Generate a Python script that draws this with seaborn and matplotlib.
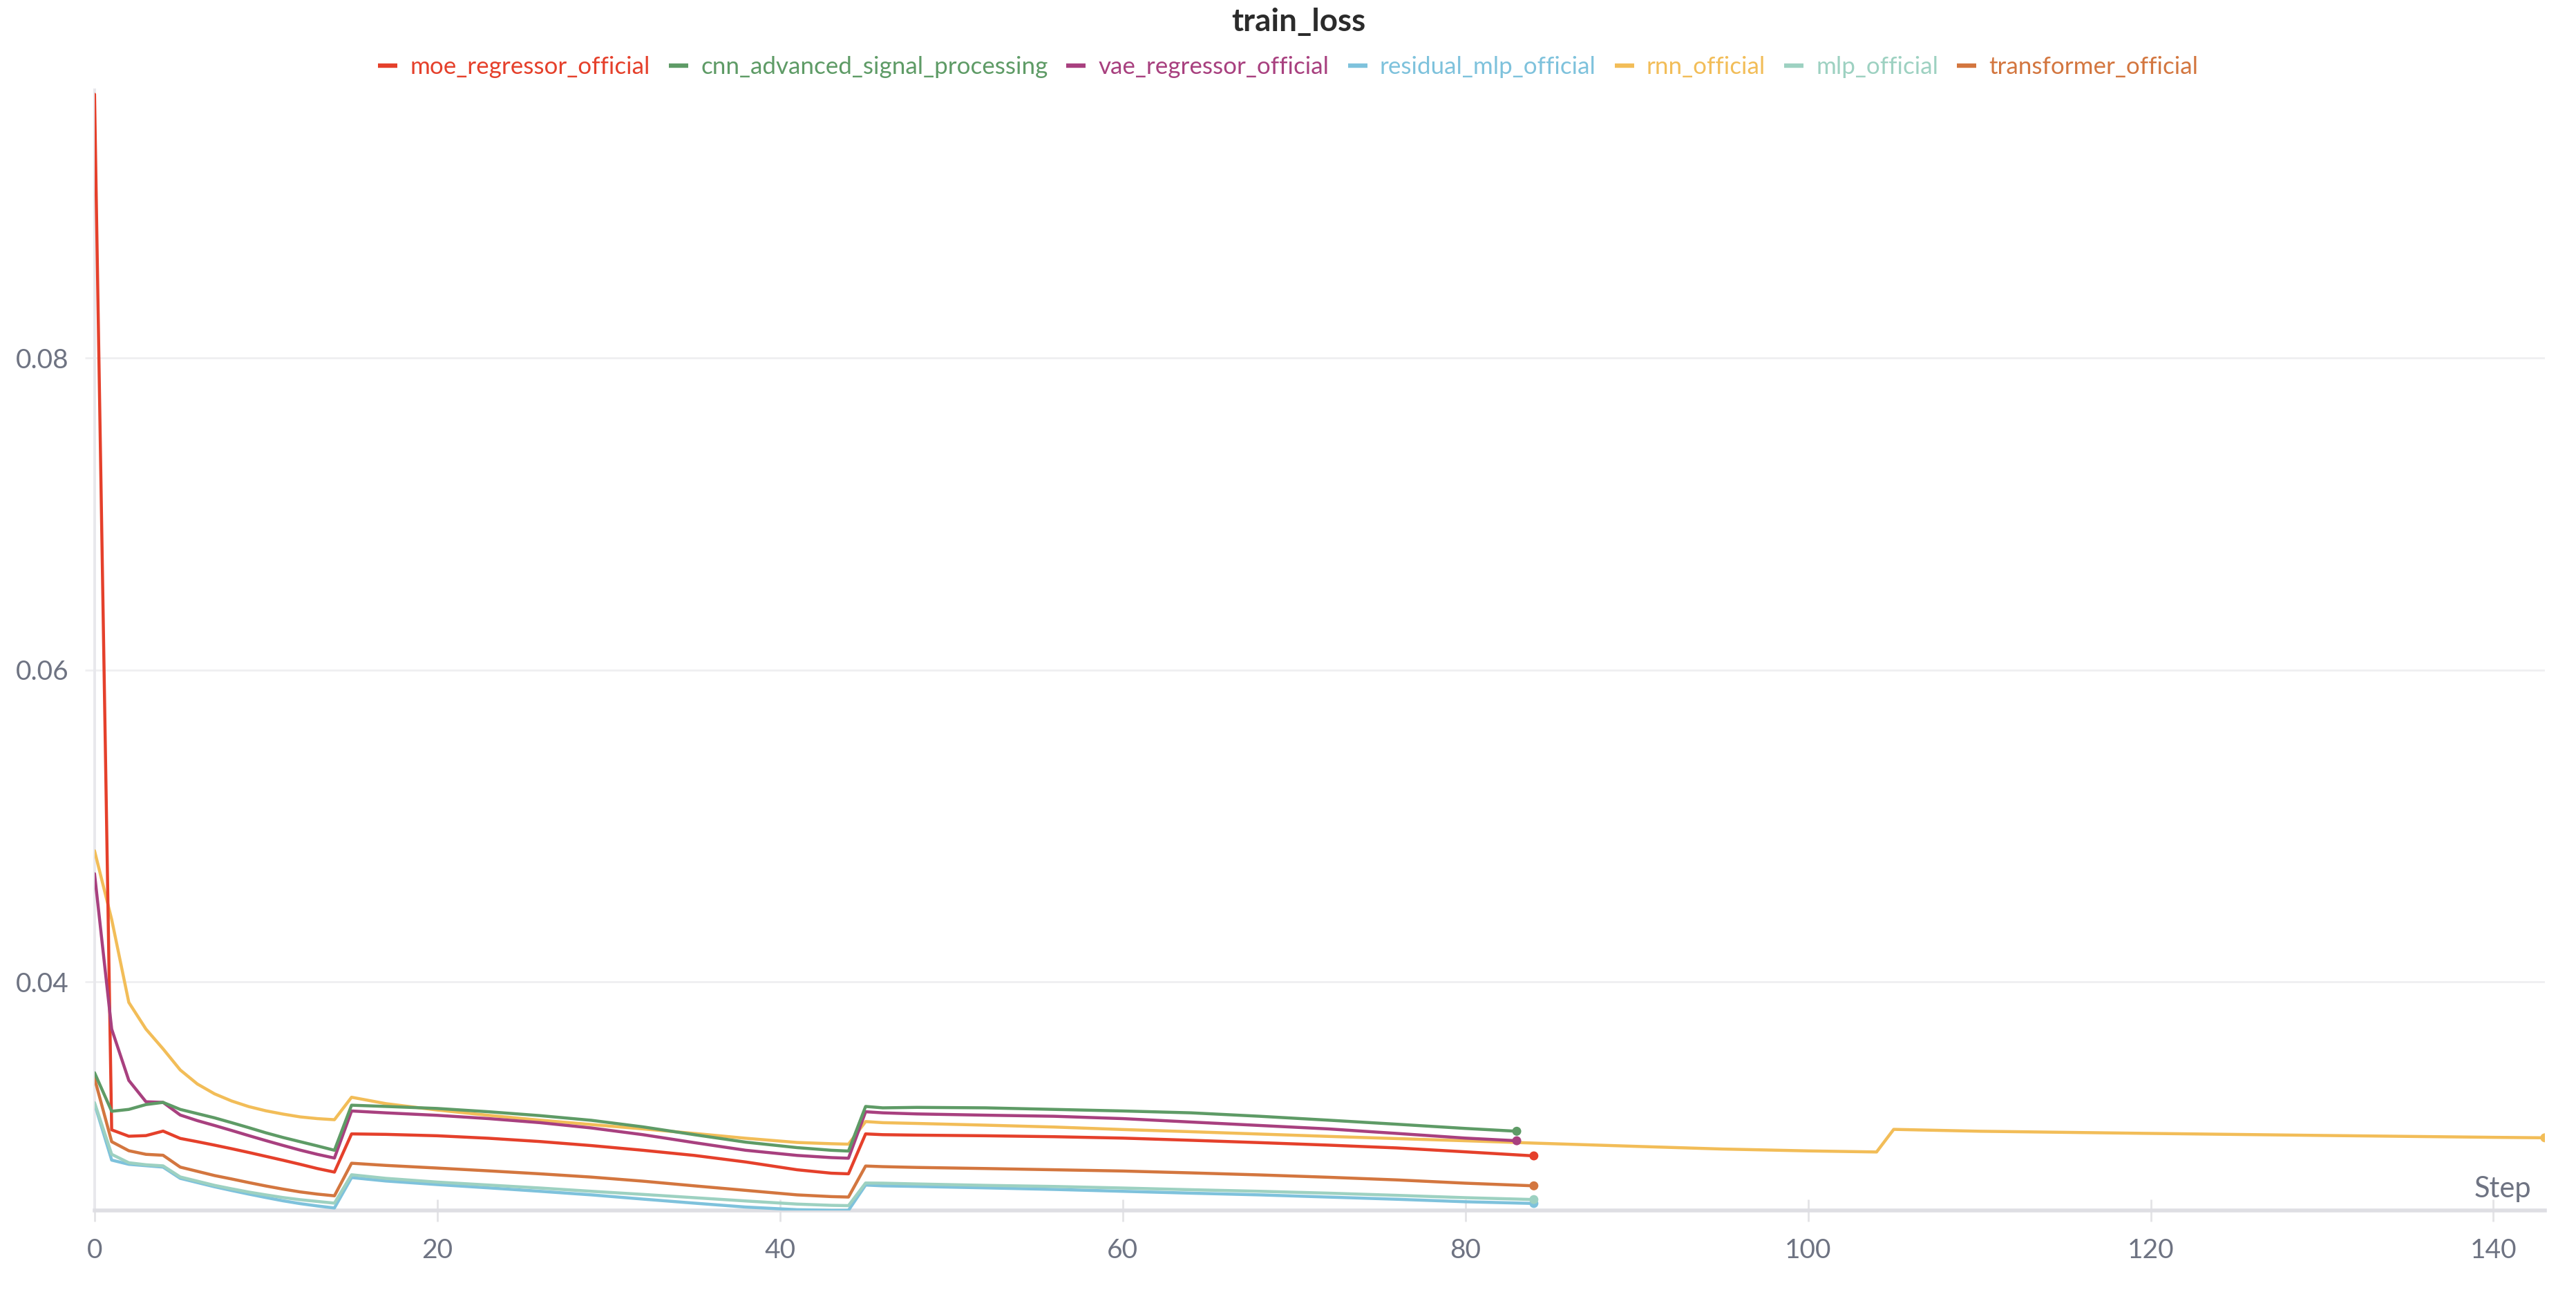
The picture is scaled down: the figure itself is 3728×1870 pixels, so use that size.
import numpy as np
import pandas as pd
import matplotlib
matplotlib.use('Agg')
import matplotlib.pyplot as plt
from matplotlib.lines import Line2D
import seaborn as sns

# shared step grid (steps 0..80), every run logs the same steps up to here
steps = [0, 1, 2, 3, 4, 5, 6, 7, 8, 9, 10, 11, 12, 13, 14, 15,
         17, 20, 23, 26, 29, 32, 35, 38, 41, 43, 44,
         45, 46, 48, 52, 56, 60, 64, 68, 72, 76, 80]

moe = [0.0969, 0.03051, 0.0301, 0.03014, 0.03043, 0.02996, 0.02975, 0.02953, 0.0293, 0.02906,
       0.02881, 0.02856, 0.0283, 0.02803, 0.0278, 0.03025,
       0.03022, 0.03013, 0.02997, 0.02976, 0.0295, 0.0292, 0.02887, 0.02845, 0.02795, 0.02773, 0.02769,
       0.03025, 0.0302, 0.03017, 0.03013, 0.03007, 0.02998, 0.02984, 0.02969, 0.02953, 0.02935, 0.0291]
cnn = [0.03417, 0.0317, 0.03182, 0.03213, 0.03227, 0.03182, 0.03155, 0.03128, 0.03097, 0.03065,
       0.03032, 0.03002, 0.02975, 0.02948, 0.0292, 0.03209,
       0.03201, 0.03188, 0.03167, 0.03142, 0.03112, 0.0307, 0.0302, 0.02972, 0.02937, 0.0292, 0.02915,
       0.03201, 0.03192, 0.03195, 0.03192, 0.03182, 0.03172, 0.0316, 0.03138, 0.03113, 0.03087, 0.0306]
vae = [0.04693, 0.03697, 0.03368, 0.03231, 0.03227, 0.03146, 0.0311, 0.03079, 0.03047, 0.03014,
       0.02982, 0.02951, 0.02921, 0.02894, 0.0287, 0.03172,
       0.0316, 0.03144, 0.03123, 0.03097, 0.03063, 0.0302, 0.02969, 0.0292, 0.02887, 0.02873, 0.02869,
       0.03167, 0.0316, 0.03153, 0.03145, 0.03138, 0.03123, 0.03101, 0.03079, 0.03057, 0.03028, 0.02998]
residual = [0.03218, 0.02857, 0.0283, 0.02821, 0.02812, 0.0274, 0.02713, 0.02686, 0.02662, 0.02639,
            0.02617, 0.02596, 0.02578, 0.02563, 0.0255, 0.02745,
            0.02723, 0.027, 0.02679, 0.02657, 0.02634, 0.02607, 0.02581, 0.02556, 0.02539, 0.02535, 0.02535,
            0.02697, 0.02692, 0.02688, 0.02679, 0.02669, 0.02657, 0.02645, 0.02634, 0.0262, 0.02606, 0.0259]
rnn = [0.0484, 0.0440, 0.03868, 0.03697, 0.0357, 0.03435, 0.03345, 0.03282, 0.03236, 0.032,
       0.03173, 0.03152, 0.03134, 0.03123, 0.03116, 0.0326,
       0.03219, 0.03178, 0.03144, 0.03113, 0.03085, 0.03057, 0.03028, 0.02997, 0.0297, 0.02962, 0.02959,
       0.03104, 0.03097, 0.03092, 0.03081, 0.03069, 0.03053, 0.03039, 0.03024, 0.03009, 0.02995, 0.02981]
mlp = [0.03225, 0.02894, 0.0284, 0.02827, 0.0282, 0.02749, 0.02722, 0.02695, 0.02673, 0.02652,
       0.02634, 0.02617, 0.02603, 0.02592, 0.02581, 0.02763,
       0.0274, 0.02716, 0.02697, 0.02678, 0.02657, 0.02637, 0.02616, 0.02595, 0.02575, 0.02567, 0.02565,
       0.0271, 0.02709, 0.02704, 0.02695, 0.02688, 0.02678, 0.02667, 0.02657, 0.02645, 0.02631, 0.02616]
transformer = [0.03381, 0.02975, 0.02917, 0.02894, 0.02888, 0.02812, 0.02785, 0.02758, 0.02736, 0.02713,
               0.02691, 0.02671, 0.02653, 0.02639, 0.02628, 0.02837,
               0.02823, 0.02806, 0.02788, 0.02769, 0.02748, 0.02722, 0.02692, 0.02663, 0.02634, 0.02623, 0.0262,
               0.02819, 0.02815, 0.0281, 0.02803, 0.02795, 0.02787, 0.02775, 0.02762, 0.02747, 0.0273, 0.02709]

# points after step 80 (runs stop at different steps)
tail_steps = {
    'moe_regressor_official': [84],
    'cnn_advanced_signal_processing': [83],
    'vae_regressor_official': [83],
    'residual_mlp_official': [84],
    'rnn_official': [84, 90, 95, 100, 104, 105, 110, 120, 130, 140, 143],
    'mlp_official': [84],
    'transformer_official': [84],
}
tail_vals = {
    'moe_regressor_official': [0.02884],
    'cnn_advanced_signal_processing': [0.03042],
    'vae_regressor_official': [0.02981],
    'residual_mlp_official': [0.02579],
    'rnn_official': [0.02966, 0.02945, 0.02928, 0.02916, 0.02909, 0.03054, 0.03042, 0.03028, 0.03015, 0.03003, 0.0300],
    'mlp_official': [0.02604],
    'transformer_official': [0.02692],
}

names = ['moe_regressor_official', 'cnn_advanced_signal_processing', 'vae_regressor_official',
         'residual_mlp_official', 'rnn_official', 'mlp_official', 'transformer_official']
series = [moe, cnn, vae, residual, rnn, mlp, transformer]
colors = ['#e5402b', '#5e9b66', '#a8407f', '#7ec2dc', '#f2bd58', '#9dd1c1', '#d3763f']
palette = dict(zip(names, colors))

rows = []
for n, vals in zip(names, series):
    for s, v in zip(steps + tail_steps[n], vals + tail_vals[n]):
        rows.append((n, s, v))
df = pd.DataFrame(rows, columns=['run', 'Step', 'train_loss'])
last = df.groupby('run').tail(1)

sns.set_theme(style='white')
plt.rcParams['font.family'] = ['Lato', 'DejaVu Sans']

fig = plt.figure(figsize=(18.64, 9.35), dpi=200)
ax = fig.add_axes([0.0367, 0.0631, 0.9512, 0.8674])

draw_order = ['rnn_official', 'residual_mlp_official', 'mlp_official', 'transformer_official',
              'moe_regressor_official', 'vae_regressor_official', 'cnn_advanced_signal_processing']
for n in draw_order:
    sns.lineplot(data=df[df.run == n], x='Step', y='train_loss', color=palette[n],
                 linewidth=1.6, ax=ax, legend=False, zorder=3)
sns.scatterplot(data=last, x='Step', y='train_loss', hue='run', palette=palette,
                s=22, edgecolor='none', ax=ax, legend=False, zorder=4)

ax.set_xlim(0, 143)
ax.set_ylim(0.02534, 0.09719)
ax.set_xticks([0, 20, 40, 60, 80, 100, 120, 140])
ax.set_yticks([0.04, 0.06, 0.08])
ax.set_yticklabels(['0.04', '0.06', '0.08'])
ax.set_xlabel('')
ax.set_ylabel('')
ax.grid(axis='y', color='#efeff1', linewidth=1.0)
ax.grid(axis='x', visible=False)
for side in ['top', 'right']:
    ax.spines[side].set_visible(False)
ax.spines['bottom'].set_color('#dedee3')
ax.spines['bottom'].set_linewidth(2.0)
ax.spines['left'].set_color('#e8e8ec')
ax.spines['left'].set_linewidth(1.4)
ax.tick_params(axis='x', direction='inout', length=11.5, width=1, color='#e3e3e6',
               labelsize=14, labelcolor='#6e7382', pad=8.5, bottom=True)
ax.tick_params(axis='y', direction='out', length=5, width=1, color='#efeff1',
               labelsize=14, labelcolor='#6e7382', pad=8.3, left=True)

ax.text(0.9946, 0.0117, 'Step', transform=ax.transAxes, ha='right', va='baseline',
        fontsize=15, color='#6e7382')

fig.text(0.504, 0.983, 'train_loss', ha='center', va='center', fontsize=16.5,
         fontweight='bold', color='#2b2b2b')

handles = [Line2D([0], [0], color=palette[n], lw=2.3, solid_capstyle='butt') for n in names]
leg = fig.legend(handles, names, loc='center', bbox_to_anchor=(0.5001, 0.948), ncol=7,
                 frameon=False, fontsize=12.6, handlelength=0.8, handletextpad=0.52,
                 columnspacing=0.77)
for t, n in zip(leg.get_texts(), names):
    t.set_color(palette[n])

fig.savefig('out.png', dpi=200, facecolor='white')
